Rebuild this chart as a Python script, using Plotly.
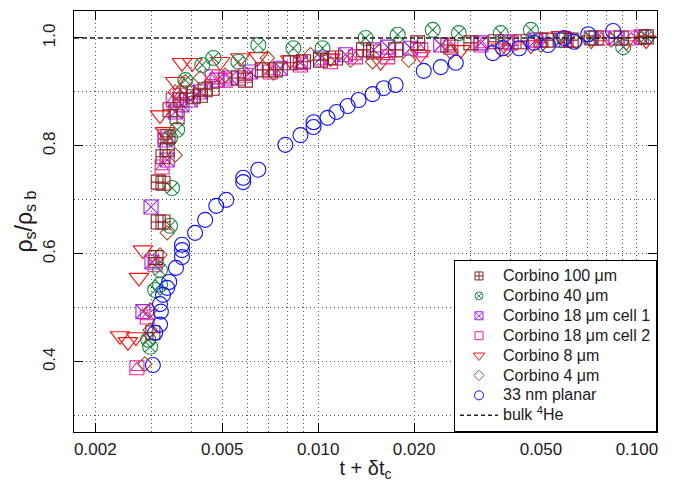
import plotly.graph_objects as go

# ---------------- data ----------------
x_c100 = [0.00303,0.00310,0.00315,0.00326,0.00315,0.00326,0.00326,0.00336,0.00338,0.00343,0.00361,0.00369,0.00388,0.00405,0.00427,0.00442,0.00465,0.00562,0.00591,0.00668,0.00734,0.00818,0.00899,0.01017,0.01134,0.01388,0.01493,0.01750,0.02052,0.02552,0.03014,0.0361,0.0433,0.0519,0.0622,0.0745,0.0893,0.1070]
y_c100 = [0.454,0.593,0.659,0.659,0.733,0.731,0.780,0.793,0.817,0.867,0.854,0.885,0.898,0.891,0.894,0.904,0.907,0.926,0.922,0.941,0.941,0.954,0.956,0.959,0.963,0.978,0.974,0.978,0.991,0.987,0.991,0.993,0.993,0.996,0.996,1.000,1.000,1.002]

x_c40 = [0.00293,0.00297,0.00308,0.00319,0.00319,0.00343,0.00348,0.00343,0.00361,0.00383,0.00433,0.00469,0.00562,0.00649,0.00836,0.01032,0.01409,0.01776,0.02288,0.02762,0.0374,0.0465,0.0578,0.0719,0.0906,0.1070]
y_c40 = [0.441,0.428,0.533,0.543,0.570,0.652,0.722,0.815,0.830,0.922,0.950,0.963,0.956,0.987,0.981,0.981,1.000,1.006,1.015,1.009,1.009,1.015,0.996,1.000,0.983,1.002]

x_c18a = [0.00282,0.00301,0.00299,0.00336,0.00331,0.00356,0.00374,0.00397,0.00427,0.00482,0.00530,0.00613,0.00761,0.00880,0.01017,0.01219,0.01493,0.01652,0.01951,0.02424,0.0324,0.0388,0.0482,0.0578,0.0719,0.0861,0.1032]
y_c18a = [0.493,0.585,0.687,0.774,0.811,0.863,0.876,0.885,0.900,0.922,0.926,0.937,0.944,0.954,0.963,0.969,0.978,0.983,0.981,0.987,0.991,0.993,0.996,0.996,1.000,1.000,1.002]

x_c18b = [0.00270,0.00291,0.00308,0.00324,0.00331,0.00351,0.00369,0.00465,0.00511,0.00591,0.00708,0.00880,0.01093,0.01310,0.01652,0.02098,0.02608,0.0324,0.0403,0.0500,0.0600,0.0773,0.0960]
y_c18b = [0.389,0.483,0.580,0.761,0.817,0.885,0.894,0.928,0.922,0.931,0.937,0.950,0.956,0.965,0.965,0.978,0.983,0.987,0.991,0.996,0.996,1.000,1.000]

x_c8 = [0.00239,0.00253,0.00268,0.00274,0.00282,0.00319,0.00331,0.00356,0.00374,0.00403,0.00493,0.00570,0.00649,0.00818,0.01093,0.01570,0.02098,0.02802,0.0374,0.0465,0.0578,0.0719,0.0926,0.1070]
y_c8 = [0.448,0.437,0.446,0.556,0.607,0.857,0.826,0.919,0.954,0.954,0.956,0.963,0.965,0.959,0.963,0.956,0.969,0.978,0.981,0.987,1.004,0.996,0.993,0.996]

x_c4 = [0.00286,0.00297,0.00297,0.00319,0.00336,0.00356,0.00356,0.00383,0.00427,0.00511,0.00693,0.00724,0.00946,0.01264,0.01482,0.01923,0.02608,0.0394,0.0500,0.0645,0.0830,0.1032]
y_c4 = [0.396,0.459,0.496,0.598,0.639,0.783,0.900,0.919,0.926,0.931,0.963,0.935,0.969,0.959,0.956,0.959,0.974,0.978,0.987,0.993,0.996,1.000]

x_planar = [0.00303,0.00308,0.00319,0.00321,0.00319,0.00326,0.00336,0.00341,0.00358,0.00374,0.00374,0.00374,0.00411,0.00442,0.00479,0.00515,0.00582,0.00582,0.00649,0.00789,0.00880,0.00967,0.00967,0.01070,0.01142,0.01237,0.01339,0.01482,0.01605,0.01750,0.02144,0.02424,0.02703,0.0353,0.0380,0.0427,0.0475,0.0526,0.0591,0.0635,0.0703,0.0842]
y_planar = [0.394,0.454,0.469,0.493,0.507,0.524,0.537,0.548,0.574,0.594,0.607,0.617,0.639,0.663,0.689,0.700,0.733,0.741,0.756,0.802,0.820,0.835,0.844,0.852,0.863,0.874,0.885,0.896,0.907,0.913,0.939,0.946,0.954,0.972,0.981,0.981,0.991,0.987,1.000,0.993,1.007,1.013]

bulk_level = 1.0

x_tickvals = [0.002, 0.005, 0.01, 0.02, 0.05, 0.1]
x_ticktext = ["0.002", "0.005", "0.010", "0.020", "0.050", "0.100"]
x_gridvals = [0.002,0.003,0.004,0.005,0.006,0.007,0.008,0.009,0.01,
              0.02,0.03,0.04,0.05,0.06,0.07,0.08,0.09,0.1]
x_min, x_max = 0.001714, 0.1156
y_min, y_max = 0.27, 1.05

legend_names = ["Corbino 100 μm", "Corbino 40 μm", "Corbino 18 μm cell 1",
                "Corbino 18 μm cell 2", "Corbino 8 μm", "Corbino 4 μm",
                "33 nm planar", "bulk <sup>4</sup>He"]

# --------------- styles ---------------
FONT = "Liberation Sans, Arial, Helvetica, sans-serif"
C100 = "#8b2323"
C40 = "#1f8a45"
C18A = "#a020f0"
C18B = "#f0209a"
C8 = "#ff1010"
C4 = "#a0522d"
CPL = "#1010ff"
GRID = "#555555"
TXT = "#221a22"

fig = go.Figure()

def data_trace(x, y, symbol, color, size, lw=1.1):
    return go.Scatter(x=x, y=y, mode="markers", showlegend=False, hoverinfo="skip",
                      marker=dict(symbol=symbol, size=size, color=color,
                                  line=dict(color=color, width=lw)))

fig.add_trace(data_trace(x_c18a, y_c18a, "square-x-open", C18A, 14))
fig.add_trace(data_trace(x_c18b, y_c18b, "square-open", C18B, 14))
fig.add_trace(data_trace(x_c18b, y_c18b, "triangle-up-open", C18B, 11))
fig.add_trace(data_trace(x_c8, y_c8, "triangle-down-open", C8, 17))
fig.add_trace(data_trace(x_c4, y_c4, "diamond-open", C4, 11))
fig.add_trace(data_trace(x_c40, y_c40, "circle-x-open", C40, 15))
fig.add_trace(data_trace(x_c100, y_c100, "square-cross-open", C100, 14))
fig.add_trace(data_trace(x_planar, y_planar, "circle-open", CPL, 15))

fig.add_trace(go.Scatter(x=[x_min, x_max], y=[bulk_level, bulk_level], mode="lines",
                         showlegend=False, hoverinfo="skip",
                         line=dict(color="#222222", width=1.3, dash="5px,3px")))

def big(t):
    return '<span style="font-size:16px">' + t + '</span>'

def leg(name, symbol, color, size=8):
    return go.Scatter(x=[None], y=[None], mode="markers", name=big(name),
                      marker=dict(symbol=symbol, size=size, color=color,
                                  line=dict(color=color, width=1)))

fig.add_trace(leg(legend_names[0], "square-cross-open", C100))
fig.add_trace(leg(legend_names[1], "circle-x-open", C40))
fig.add_trace(leg(legend_names[2], "square-x-open", C18A))
fig.add_trace(leg(legend_names[3], "square-open", C18B))
fig.add_trace(leg(legend_names[4], "triangle-down-open", C8, 10))
fig.add_trace(leg(legend_names[5], "diamond-open", C4, 8))
fig.add_trace(leg(legend_names[6], "circle-open", CPL, 9))
fig.add_trace(go.Scatter(x=[None], y=[None], mode="lines", name=big(legend_names[7]),
                         line=dict(color="#222222", width=1.3, dash="4px,3px")))

fig.update_layout(
    width=679, height=482,
    margin=dict(l=74, r=22, t=11, b=50),
    paper_bgcolor="white", plot_bgcolor="white",
    font=dict(family=FONT, size=16, color=TXT),
    showlegend=True,
    legend=dict(x=1, y=0, xanchor="right", yanchor="bottom",
                bgcolor="white", bordercolor="black", borderwidth=1,
                font=dict(family=FONT, size=13, color=TXT),
                itemsizing="trace", itemwidth=38, tracegroupgap=0),
    xaxis=dict(type="log", range=[-2.7660, -0.9370], automargin=False,
               tickmode="array", tickvals=x_tickvals, ticktext=x_ticktext,
               ticks="inside", ticklen=9, tickcolor="black",
               showline=True, linecolor="black", linewidth=1.2, mirror="ticks",
               showgrid=True, gridcolor=GRID, griddash="1px,3px", gridwidth=1,
               minor=dict(tickmode="array", tickvals=x_gridvals, ticklen=0,
                          showgrid=True, gridcolor=GRID, griddash="1px,3px", gridwidth=1),
               tickfont=dict(size=17), ticklabelstandoff=1,
               zeroline=False,
               title=dict(text="t + δt<sub>c</sub>", font=dict(size=20), standoff=9)),
    yaxis=dict(range=[y_min, y_max], tick0=0.0, dtick=0.2, automargin=False,
               ticks="inside", ticklen=9, tickcolor="black",
               showline=True, linecolor="black", linewidth=1.2, mirror="ticks",
               showgrid=True, gridcolor=GRID, griddash="1px,3px", gridwidth=1,
               minor=dict(dtick=0.1, tick0=0.0, ticklen=0, showgrid=True,
                          gridcolor=GRID, griddash="1px,3px", gridwidth=1),
               tickangle=-90, tickformat=".1f", tickfont=dict(size=17),
               ticklabelstandoff=11, zeroline=False,
               title=dict(text="ρ<sub>s</sub>/ρ<sub>s b</sub>", font=dict(size=23), standoff=1)),
)

fig.write_html("out.html")
